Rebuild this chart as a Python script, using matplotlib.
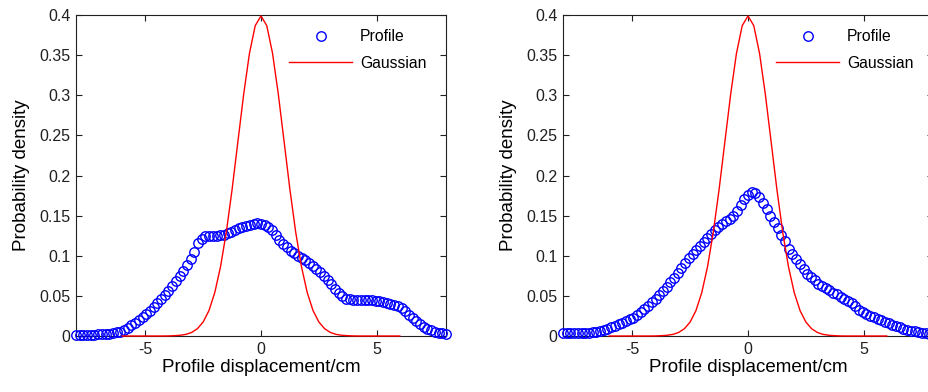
import numpy as np
import matplotlib
matplotlib.use("Agg")
import matplotlib.pyplot as plt

plt.rcParams['font.family'] = ['Liberation Sans', 'DejaVu Sans']

# profile samples, x from -8 to 8 in steps of 0.16
x_profile = np.round(np.arange(101) * 0.16 - 8, 2)

profile_left = [
    0.001, 0.001, 0.001, 0.001, 0.0013, 0.0016, 0.002, 0.0022, 0.0026, 0.0029,
    0.0036, 0.0045, 0.0055, 0.0074, 0.0103, 0.0132, 0.0163, 0.0198, 0.0234, 0.0271,
    0.0316, 0.0361, 0.0406, 0.0458, 0.0509, 0.056, 0.0621, 0.0682, 0.0742, 0.0813,
    0.0883, 0.0954, 0.105, 0.116, 0.121, 0.124, 0.1244, 0.1248, 0.1252, 0.1255,
    0.126, 0.128, 0.130, 0.132, 0.134, 0.136, 0.137, 0.1384, 0.1395, 0.1406,
    0.140, 0.1384, 0.1357, 0.1315, 0.1255, 0.120, 0.1152, 0.1104, 0.1064, 0.1032,
    0.100, 0.0972, 0.0944, 0.0912, 0.0876, 0.084, 0.0792, 0.0744, 0.0694, 0.0642,
    0.059, 0.0542, 0.0494, 0.0466, 0.0458, 0.045, 0.045, 0.045, 0.045, 0.0447,
    0.0444, 0.0441, 0.0433, 0.0423, 0.0414, 0.0402, 0.0389, 0.0376, 0.0349, 0.0308,
    0.0266, 0.0226, 0.0187, 0.0149, 0.0114, 0.0092, 0.0070, 0.005, 0.0043, 0.0036,
    0.003,
]

profile_right = [
    0.004, 0.004, 0.004, 0.004, 0.004, 0.004, 0.004, 0.0043, 0.0046, 0.0049,
    0.006, 0.0075, 0.0092, 0.011, 0.0129, 0.0148, 0.0167, 0.0186, 0.0206, 0.0229,
    0.0264, 0.0299, 0.0335, 0.0377, 0.0418, 0.046, 0.0511, 0.0562, 0.0614, 0.067,
    0.0728, 0.0786, 0.0844, 0.0906, 0.0967, 0.102, 0.1068, 0.1116, 0.1166, 0.1218,
    0.127, 0.1316, 0.1353, 0.1391, 0.1428, 0.146, 0.149, 0.1553, 0.1627, 0.1701,
    0.176, 0.180, 0.1776, 0.1728, 0.1656, 0.158, 0.150, 0.1415, 0.134, 0.126,
    0.118, 0.109, 0.1026, 0.0954, 0.0892, 0.0832, 0.0774, 0.0734, 0.0694, 0.0652,
    0.0622, 0.0593, 0.0567, 0.0542, 0.0518, 0.0492, 0.0464, 0.0437, 0.0405, 0.0373,
    0.033, 0.0304, 0.0278, 0.0253, 0.0233, 0.0214, 0.0195, 0.0176, 0.0158, 0.014,
    0.012, 0.0106, 0.0092, 0.0078, 0.0067, 0.0057, 0.0048, 0.004, 0.0032, 0.0026,
    0.002,
]

# gaussian curve, x from -6 to 6 in steps of 0.25
x_gauss = np.arange(49) * 0.25 - 6
gauss_half = [0.3989, 0.3867, 0.3521, 0.3011, 0.2420, 0.1826, 0.1295, 0.0863,
              0.0540, 0.0317, 0.0175, 0.0091, 0.0044, 0.0020, 0.0009, 0.0004,
              0.0001, 0, 0, 0, 0, 0, 0, 0, 0]
gauss = gauss_half[:0:-1] + gauss_half

y_ticks = [0, 0.05, 0.1, 0.15, 0.2, 0.25, 0.3, 0.35, 0.4]
y_ticklabels = ['0', '0.05', '0.1', '0.15', '0.2', '0.25', '0.3', '0.35', '0.4']
x_ticks = [-5, 0, 5]

fig = plt.figure(figsize=(9.29, 3.92), dpi=100)
W, H = 929, 392
panels = [(76, profile_left), (563, profile_right)]

for left_px, prof in panels:
    ax = fig.add_axes([left_px / W, 56 / H, 370 / W, 321 / H])
    ax.plot(x_profile, prof, 'o', mfc='none', mec=(0, 0, 1), ms=6.8, mew=1.0,
            clip_on=False, label='Profile', zorder=3)
    ax.plot(x_gauss, gauss, '-', color=(1, 0, 0), lw=1.0, clip_on=False,
            label='Gaussian', zorder=4)
    ax.set_xlim(-8, 8)
    ax.set_ylim(0, 0.4)
    ax.set_xticks(x_ticks)
    ax.set_xticklabels(['-5', '0', '5'])
    ax.set_yticks(y_ticks)
    ax.set_yticklabels(y_ticklabels)
    ax.tick_params(direction='in', top=True, right=True, length=4, width=0.8,
                   labelsize=11.5, pad=4, colors='#202020')
    for s in ax.spines.values():
        s.set_linewidth(0.8)
        s.set_color('#202020')
    ax.set_xlabel('Profile displacement/cm', fontsize=13.5, labelpad=2)
    ax.set_ylabel('Probability density', fontsize=13.5, labelpad=7)
    ax.legend(loc='upper right', bbox_to_anchor=(0.985, 1.0), frameon=False,
              fontsize=11.3, handlelength=4, handletextpad=0.5,
              labelspacing=0.75, borderaxespad=0.5)

fig.savefig('out.png', dpi=100)
